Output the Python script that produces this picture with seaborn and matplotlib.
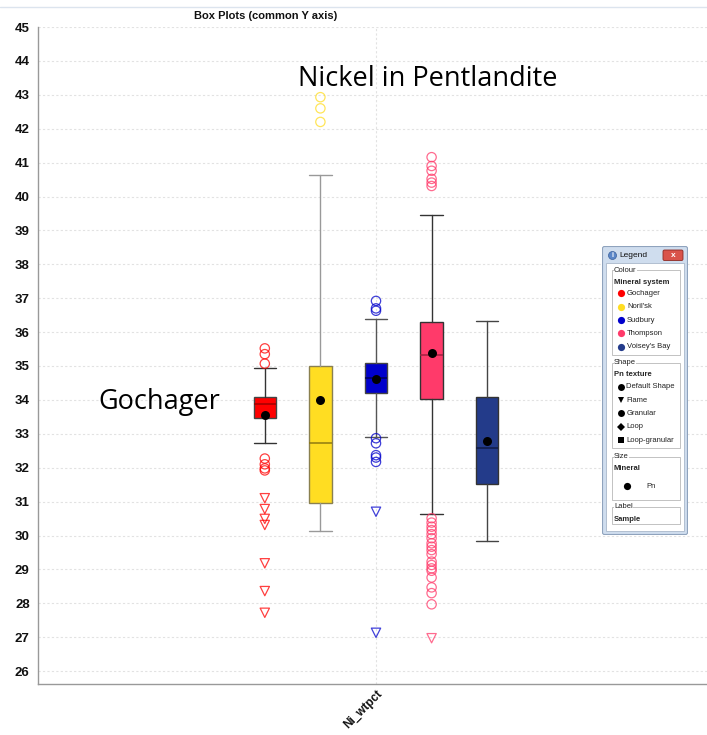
import numpy as np
import pandas as pd
import matplotlib
matplotlib.use("Agg")
import matplotlib.pyplot as plt
from matplotlib.patches import Rectangle, FancyBboxPatch, Circle
from matplotlib.lines import Line2D
import seaborn as sns

# ---- data -------------------------------------------------------------
groups = ["Gochager", "Noril'sk", "Sudbury", "Thompson", "Voisey's Bay"]
colors = ["#FF0000", "#FFDD22", "#0000CC", "#FF3A6A", "#233B8A"]
median_colors = ["#A00000", "#8F7A10", "#00005A", "#A0203F", "#101B45"]
whisker_colors = ["#333333", "#999999", "#555555", "#333333", "#444444"]
box_edge_colors = ["#444444", "#8A8050", "#444444", "#333333", "#333333"]

q1 = [33.47, 30.97, 34.21, 34.02, 31.51]
med = [33.88, 32.74, 34.65, 35.33, 32.59]
q3 = [34.08, 35.01, 35.09, 36.29, 34.09]
whislo = [32.72, 30.12, 32.91, 30.64, 29.83]
whishi = [34.93, 40.63, 36.38, 39.45, 36.32]
means = [33.56, 33.99, 34.62, 35.39, 32.80]

# outliers: granular texture (circles)
gran_gochager = [35.52, 35.35, 35.07, 32.27, 32.10, 31.98, 31.92]
gran_norilsk = [42.93, 42.60, 42.20]
gran_sudbury = [36.92, 36.70, 36.63, 32.87, 32.72, 32.37, 32.30, 32.17]
gran_thompson = [41.16, 40.90, 40.76, 40.52, 40.41, 40.31,
                 30.51, 30.38, 30.26, 30.16, 30.04, 29.92, 29.77, 29.67,
                 29.57, 29.45, 29.23, 29.13, 29.03, 28.96, 28.76, 28.47,
                 28.30, 27.97]
# outliers: flame texture (triangles)
flame_gochager = [31.10, 30.78, 30.49, 30.31, 29.18, 28.36, 27.72]
flame_sudbury = [30.70, 27.13]
flame_thompson = [26.97]

category = "Ni_wtpct"
yticks = list(range(26, 46))

# ---- style ------------------------------------------------------------
sns.set_theme(style="white")
plt.rcParams["font.family"] = ["Liberation Sans Narrow", "Liberation Sans", "DejaVu Sans"]

W, H = 707, 735
fig = plt.figure(figsize=(W / 100, H / 100), dpi=100)
fig.patch.set_facecolor("white")

def px_rect(x0, y0, x1, y1):
    return [x0 / W, 1 - y1 / H, (x1 - x0) / W, (y1 - y0) / H]

ax = fig.add_axes(px_rect(38, 27, 707, 684))
step = 55.6
ax.set_xlim((38 - 376) / step, (707 - 376) / step)
ax.set_ylim(45 - (684 - 27) / 33.9, 45)

positions = np.arange(len(groups)) - 2.0
box_w = 0.40

# boxes from summary statistics
for i, g in enumerate(groups):
    stats = [dict(med=med[i], q1=q1[i], q3=q3[i], whislo=whislo[i],
                  whishi=whishi[i], fliers=[], label=g)]
    ax.bxp(stats, positions=[positions[i]], widths=box_w, patch_artist=True,
           showfliers=False, manage_ticks=False,
           boxprops=dict(facecolor=colors[i], edgecolor=box_edge_colors[i], linewidth=1.0),
           medianprops=dict(color=median_colors[i], linewidth=1.1),
           whiskerprops=dict(color=whisker_colors[i], linewidth=1.0),
           capprops=dict(color=whisker_colors[i], linewidth=1.0),
           capwidths=box_w, zorder=3)

# outlier table
rows = []
def add(vals, gi, tex):
    for v in vals:
        rows.append(dict(group=groups[gi], pos=positions[gi], value=v, texture=tex))
add(gran_gochager, 0, "Granular")
add(gran_norilsk, 1, "Granular")
add(gran_sudbury, 2, "Granular")
add(gran_thompson, 3, "Granular")
add(flame_gochager, 0, "Flame")
add(flame_sudbury, 2, "Flame")
add(flame_thompson, 3, "Flame")
out = pd.DataFrame(rows)

n_before = len(ax.collections)
sns.scatterplot(data=out, x="pos", y="value", hue="group", hue_order=groups,
                palette=dict(zip(groups, colors)), style="texture",
                markers={"Granular": "o", "Flame": "v"}, s=45, linewidth=0.9,
                legend=False, ax=ax, zorder=4)
for coll in ax.collections[n_before:]:
    fc = coll.get_facecolors()
    fc[:, 3] = 0.75
    coll.set_edgecolors(fc)
    coll.set_facecolors("none")

mean_df = pd.DataFrame(dict(pos=positions, value=means))
sns.scatterplot(data=mean_df, x="pos", y="value", color="black", s=42,
                linewidth=0, legend=False, ax=ax, zorder=5)

# axes decoration
ax.set_yticks(yticks)
ax.set_yticklabels([str(t) for t in yticks], fontsize=9.5, fontweight="bold")
ax.set_xticks([0])
ax.set_xticklabels([category], rotation=45, ha="right", va="top",
                   rotation_mode="anchor", fontsize=8.5, fontweight="bold")
ax.tick_params(axis="y", length=3, width=0.6, color="#999999", pad=3, labelcolor="#111111")
ax.tick_params(axis="x", length=0, pad=3, labelcolor="#111111")
ax.set_xlabel("")
ax.set_ylabel("")
for side in ["top", "right"]:
    ax.spines[side].set_visible(False)
for side in ["left", "bottom"]:
    ax.spines[side].set_color("#999999")
    ax.spines[side].set_linewidth(1.0)
ax.grid(True, axis="both", color="#E2E2E2", linestyle=(0, (2, 2)), linewidth=0.8)
ax.set_axisbelow(True)

fig.text(266 / W, 1 - 16 / H, "Box Plots (common Y axis)", ha="center", va="center",
         fontsize=8, fontweight="bold", color="#111111")
fig.add_artist(Line2D([0, 1], [1 - 7 / H, 1 - 7 / H], color="#DCE4EE", linewidth=1.0))

# annotations
fig.text(428 / W, 1 - 79 / H, "Nickel in Pentlandite", ha="center", va="center",
         fontsize=19.5, family=["Open Sans", "DejaVu Sans"], color="black")
fig.text(159 / W, 1 - 402 / H, "Gochager", ha="center", va="center",
         fontsize=19.5, family=["Open Sans", "DejaVu Sans"], color="black")

# ---- floating legend panel -------------------------------------------
lx0, ly0, lx1, ly1 = 602, 246, 688, 535
lg = fig.add_axes(px_rect(lx0, ly0, lx1, ly1))
lg.set_xlim(lx0, lx1)
lg.set_ylim(ly1, ly0)
lg.axis("off")
fs = 5.5
# window frame and title bar
lg.add_patch(FancyBboxPatch((lx0 + 0.5, ly0 + 0.5), lx1 - lx0 - 1, ly1 - ly0 - 1,
                            boxstyle="round,pad=0,rounding_size=2",
                            facecolor="#CFDDEE", edgecolor="#8FA3BD", linewidth=0.8))
lg.add_patch(Rectangle((606, 263), 78, 268, facecolor="white", edgecolor="#A9B8CA", linewidth=0.6))
lg.add_patch(Circle((612.5, 255.5), 4, facecolor="#5A86C8", edgecolor="#3A5F9A", linewidth=0.5))
lg.text(612.5, 255.7, "i", fontsize=5, color="white", ha="center", va="center", fontweight="bold")
lg.text(619, 255.5, "Legend", fontsize=6, ha="left", va="center", color="#111111",
        family=["Liberation Sans", "DejaVu Sans"])
lg.add_patch(FancyBboxPatch((663, 250), 20, 10.5, boxstyle="round,pad=0,rounding_size=1.5",
                            facecolor="#D9534A", edgecolor="#8C2A24", linewidth=0.6))
lg.text(673, 255.3, "x", fontsize=6, ha="center", va="center", color="white", fontweight="bold")

sans = ["Liberation Sans", "DejaVu Sans"]
def group_box(y0, y1, title):
    lg.add_patch(Rectangle((612, y0), 68, y1 - y0, facecolor="none",
                           edgecolor="#B8B8B8", linewidth=0.6))
    lg.text(614, y0, title, fontsize=fs, ha="left", va="center", color="#222222",
            family=sans, bbox=dict(facecolor="white", edgecolor="none", pad=0.3))

group_box(270, 355, "Colour")
lg.text(614, 282.3, "Mineral system", fontsize=fs, fontweight="bold", ha="left", va="center", family=sans)
for k, (g, c) in enumerate(zip(groups, colors)):
    yy = 293.3 + k * 13.35
    lg.plot([620.7], [yy], marker="o", markersize=5.2, color=c, markeredgewidth=0)
    lg.text(627, yy, g, fontsize=fs, ha="left", va="center", family=sans, color="#222222")

group_box(363, 448, "Shape")
lg.text(614, 375, "Pn texture", fontsize=fs, fontweight="bold", ha="left", va="center", family=sans)
shape_names = ["Default Shape", "Flame", "Granular", "Loop", "Loop-granular"]
shape_marks = ["o", "v", "o", "D", "s"]
shape_sizes = [5.0, 5.0, 5.0, 3.6, 4.6]
for k, (nm, mk, ms) in enumerate(zip(shape_names, shape_marks, shape_sizes)):
    yy = 386.7 + k * 13.33
    lg.plot([620.7], [yy], marker=mk, markersize=ms, color="black", markeredgewidth=0)
    lg.text(626.5, yy, nm, fontsize=fs, ha="left", va="center", family=sans, color="#222222")

group_box(456.5, 500, "Size")
lg.text(614, 468.3, "Mineral", fontsize=fs, fontweight="bold", ha="left", va="center", family=sans)
lg.plot([626.7], [486], marker="o", markersize=5.2, color="black", markeredgewidth=0)
lg.text(646, 486, "Pn", fontsize=fs, ha="left", va="center", family=sans, color="#222222")

group_box(507, 524, "Label")
lg.text(614, 519.3, "Sample", fontsize=fs, fontweight="bold", ha="left", va="center", family=sans)

fig.savefig("out.png", dpi=100, facecolor="white")
